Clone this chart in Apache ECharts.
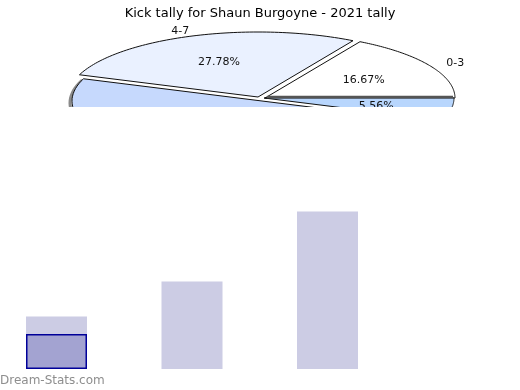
<!DOCTYPE html>
<html>
<head>
<meta charset="utf-8">
<script src="https://cdn.jsdelivr.net/npm/echarts@6/dist/echarts.min.js"></script>
<style>html,body{margin:0;padding:0;background:#fff}#c{width:520px;height:390px}</style>
</head>
<body>
<div id="c"></div>
<script>
// ---- data ----
var title = 'Kick tally for Shaun Burgoyne - 2021 tally';
var pieNames = ['0-3', '4-7', '8-9', '10-15'];
var pieValues = [3, 5, 9, 1];
var barCategories = ['0-3', '4-7', '8-9'];
var barValues = [3, 5, 9];
var barOverlayValues = [2, null, null];

// ---- styles ----
var pieColors = ['#ffffff', '#eaf1ff', '#c6d9fd', '#b8d6fd'];
var explode = [[3, 0], [-4, -1], [0, 3], [2, 0]];
var FONT = 'DejaVu Sans';

var total = pieValues.reduce(function (a, b) { return a + b; }, 0);
var starts = [];
(function () { var acc = 0; for (var i = 0; i < pieValues.length; i++) { starts.push(acc); acc += pieValues[i]; } })();

function renderSlice(params, api) {
  var i = params.dataIndex;
  var c = api.coord([0, 0]);
  var s = api.size([1, 1]);
  var rx = s[0], ry = s[1];
  var a0 = starts[i] / total * Math.PI * 2;
  var a1 = (starts[i] + pieValues[i]) / total * Math.PI * 2;
  var ox = c[0] + explode[i][0], oy = c[1] + explode[i][1];
  var pts = [[ox, oy]];
  var n = 80;
  for (var k = 0; k <= n; k++) {
    var a = a0 + (a1 - a0) * k / n;
    pts.push([ox + rx * Math.cos(a), oy - ry * Math.sin(a)]);
  }
  var mid = (a0 + a1) / 2;
  var pct = (pieValues[i] / total * 100).toFixed(2) + '%';
  var children = [];
  if (i === 2) {
    children.push({
      type: 'polygon', shape: { points: pts.map(function (p) { return [p[0] - 2, p[1] + 2]; }) },
      style: { fill: 'none', stroke: '#8a8a8a', lineWidth: 3 }
    });
  }
  children.push({
    type: 'polygon', shape: { points: pts },
    style: { fill: pieColors[i], stroke: '#111', lineWidth: 1 }
  });
  if (i === 3) {
    children.push({
      type: 'line', shape: { x1: ox + 3, y1: oy - 1, x2: ox + rx - 1, y2: oy - 1 },
      style: { stroke: '#555', lineWidth: 2.5 }
    });
  }
  children.push({
    type: 'text',
    style: { text: pct, x: ox + rx * 0.6 * Math.cos(mid), y: oy - ry * 0.6 * Math.sin(mid) + 1.5,
      align: 'center', verticalAlign: 'middle', font: '11px "' + FONT + '"', fill: '#111' }
  });
  var cm = Math.cos(mid);
  children.push({
    type: 'text',
    style: { text: pieNames[i], x: c[0] + rx * 1.12 * cm, y: c[1] - ry * 1.12 * Math.sin(mid) + 2,
      align: cm < 0 ? 'right' : 'left', verticalAlign: 'middle', font: '11px "' + FONT + '"', fill: '#111' }
  });
  return { type: 'group', children: children };
}

var chart = echarts.init(document.getElementById('c'), null, { renderer: 'canvas' });
chart.setOption({
  animation: false,
  backgroundColor: '#fff',
  title: { text: title, left: 'center', top: 2,
    textStyle: { fontFamily: FONT, fontSize: 13, fontWeight: 'normal', color: '#000' } },
  graphic: [{ type: 'text', left: 0, top: 375,
    style: { text: 'Dream-Stats.com', font: '12px "' + FONT + '"', fill: '#8e8e8e' } }],
  grid: [
    { left: 0, top: 0, width: 520, height: 107 },
    { left: 0, width: 520, top: 194, bottom: 21 }
  ],
  xAxis: [
    { gridIndex: 0, type: 'value', min: -262 / 190, max: 258 / 190, show: false },
    { gridIndex: 1, type: 'value', min: -56.5 / 135.5, max: -56.5 / 135.5 + 520 / 135.5, show: false }
  ],
  yAxis: [
    { gridIndex: 0, type: 'value', min: -9 / 65, max: 98 / 65, show: false },
    { gridIndex: 1, type: 'value', min: 0, max: 10, show: false }
  ],
  series: [
    { type: 'custom', xAxisIndex: 0, yAxisIndex: 0, clip: true,
      data: pieValues.map(function (v, i) { return { name: pieNames[i], value: [0, 0, v] }; }),
      renderItem: renderSlice, z: 2 },
    { type: 'bar', name: 'tally', xAxisIndex: 1, yAxisIndex: 1, barWidth: 61,
      data: barValues.map(function (v, i) { return { name: barCategories[i], value: [i, v] }; }),
      itemStyle: { color: '#ccccE4' } },
    { type: 'bar', name: 'overlay', xAxisIndex: 1, yAxisIndex: 1, barWidth: 61, barGap: '-100%',
      data: barOverlayValues.map(function (v, i) { return { name: barCategories[i], value: [i, v] }; }),
      itemStyle: { color: '#a3a3d1', borderColor: '#000099', borderWidth: 1.5 } }
  ]
});
</script>
</body>
</html>
